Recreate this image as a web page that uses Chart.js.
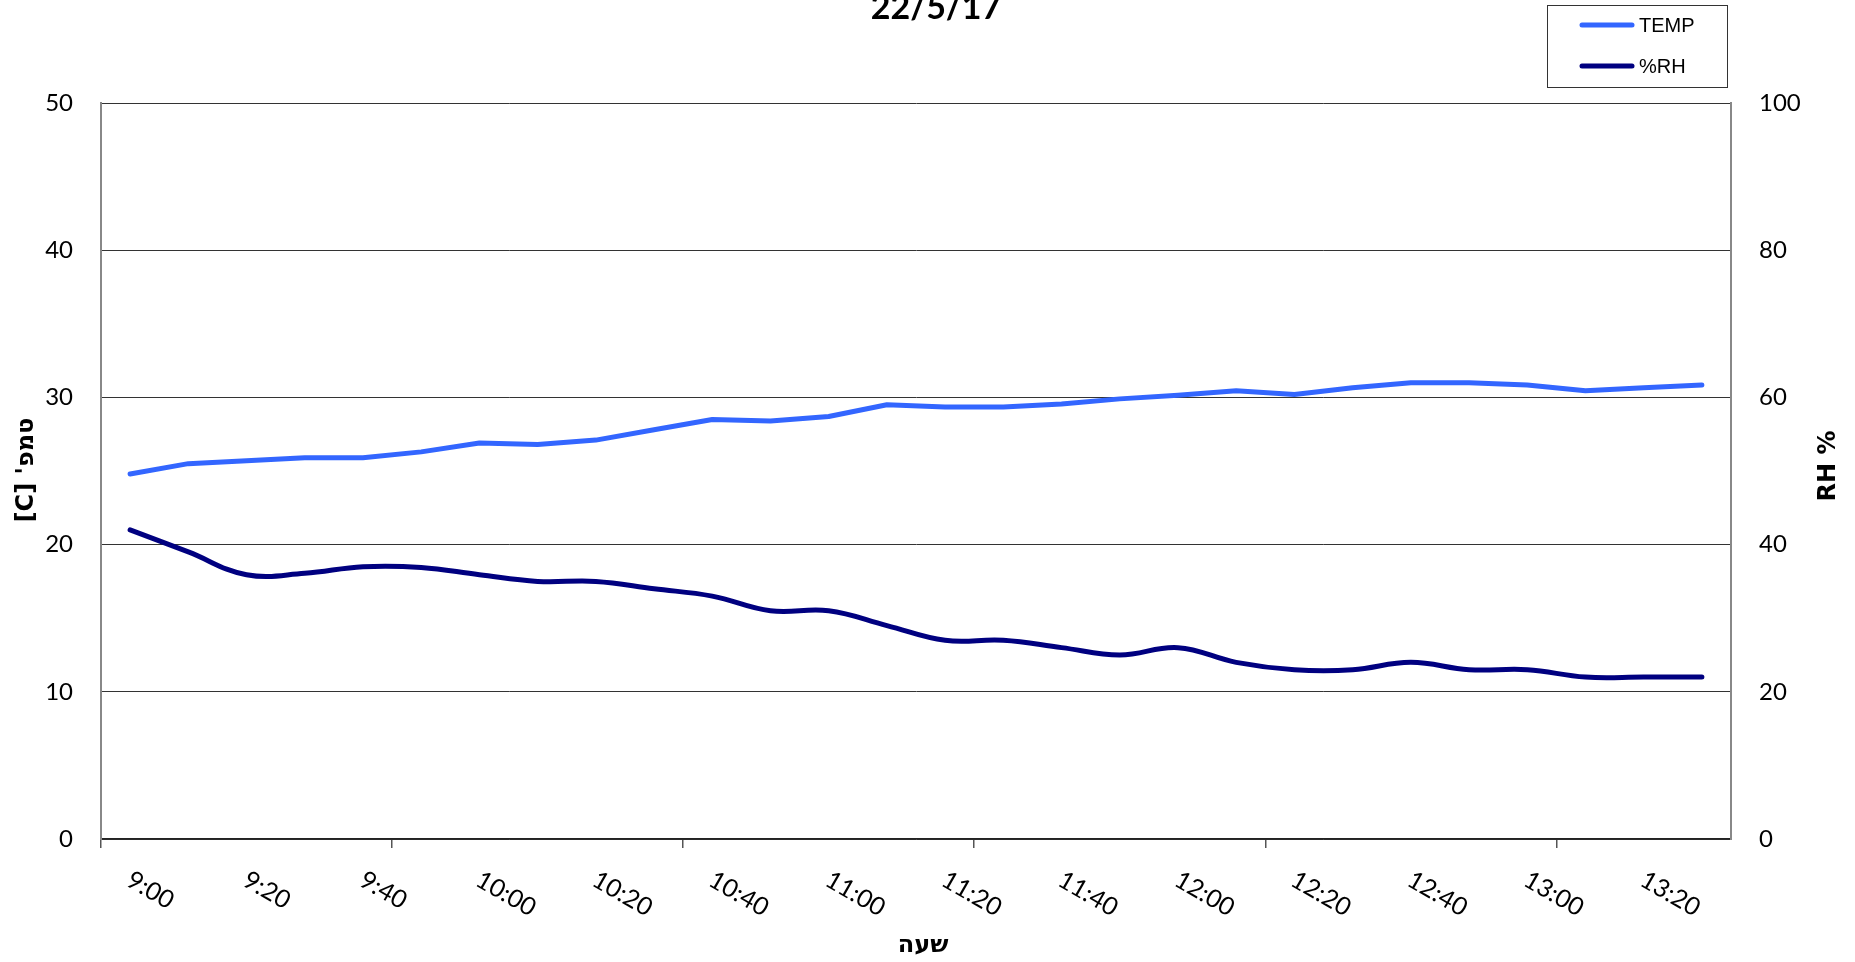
<!DOCTYPE html>
<html>
<head>
<meta charset="utf-8">
<script src="https://cdn.jsdelivr.net/npm/chart.js@4/dist/chart.umd.min.js"></script>
<style>
html,body{margin:0;padding:0;background:#fff;}
canvas{display:block;}
</style>
</head>
<body>
<canvas id="c" width="1855" height="962"></canvas>
<script>
const categories = ['9:00','9:10','9:20','9:30','9:40','9:50','10:00','10:10','10:20','10:30','10:40','10:50','11:00','11:10','11:20','11:30','11:40','11:50','12:00','12:10','12:20','12:30','12:40','12:50','13:00','13:10','13:20','13:30'];
const tempValues = [24.8,25.5,25.7,25.9,25.9,26.3,26.9,26.8,27.1,27.8,28.5,28.4,28.7,29.5,29.35,29.35,29.55,29.9,30.15,30.45,30.2,30.65,31.0,31.0,30.85,30.45,30.65,30.85];
const rhValues = [42,39,35.9,36.1,37,36.9,35.9,35,35,34,33,31,31,29,27,27,26,25,26,24,23,23,24,23,23,22,22,22];
const leftTicks = {min:0, max:50, step:10};
const rightTicks = {min:0, max:100, step:20};
const titleText = '22/5/17';
const xTitle = 'שעה';
const yTitle = "[C] 'טמפ";
const y1Title = 'RH %';
const seriesNames = ['TEMP','%RH'];
const seriesColors = ['#3366FF','#000080'];

const tickFont = {family:'Lato', size:24};

const customText = {
  id:'customText',
  afterDraw(chart){
    const ctx = chart.ctx;
    const xs = chart.scales.x;
    const ca = chart.chartArea;
    ctx.save();
    // x tick labels rotated clockwise
    ctx.font = '25px Lato';
    ctx.fillStyle = '#000';
    ctx.textAlign = 'left';
    ctx.textBaseline = 'top';
    categories.forEach((lab,i)=>{
      if(i%2!==0) return;
      const px = xs.getPixelForValue(i);
      ctx.save();
      ctx.translate(px+5, ca.bottom+28);
      ctx.rotate(Math.PI/6);
      ctx.fillText(lab,0,0);
      ctx.restore();
    });
    // chart title
    ctx.font = 'bold 34px Lato';
    ctx.textAlign = 'center';
    ctx.textBaseline = 'alphabetic';
    ctx.fillText(titleText, 936, 19);
    // x title
    ctx.font = 'bold 24px "DejaVu Sans"';
    ctx.textBaseline = 'middle';
    ctx.fillText(xTitle, 923, 946);
    // left title
    ctx.save();
    ctx.translate(27, 470);
    ctx.rotate(-Math.PI/2);
    ctx.fillText(yTitle,0,0);
    ctx.restore();
    // right title
    ctx.save();
    ctx.translate(1829, 466);
    ctx.rotate(-Math.PI/2);
    ctx.fillText(y1Title,0,0);
    ctx.restore();
    // legend
    ctx.fillStyle = '#fff';
    ctx.fillRect(1547.5,5.5,180,82);
    ctx.strokeStyle = '#333';
    ctx.lineWidth = 1;
    ctx.strokeRect(1547.5,5.5,180,82);
    ctx.font = '20px "Liberation Sans"';
    ctx.textAlign = 'left';
    ctx.textBaseline = 'middle';
    const rows = [25,66];
    seriesNames.forEach((n,k)=>{
      ctx.strokeStyle = seriesColors[k];
      ctx.lineWidth = 5;
      ctx.lineCap = 'round';
      ctx.beginPath();
      ctx.moveTo(1582, rows[k]);
      ctx.lineTo(1632, rows[k]);
      ctx.stroke();
      ctx.fillStyle = '#000';
      ctx.fillText(n, 1639, rows[k]+1);
    });
    ctx.restore();
  }
};

new Chart(document.getElementById('c'), {
  type:'line',
  data:{
    labels:categories,
    datasets:[
      {label:seriesNames[0], data:tempValues, yAxisID:'y', borderColor:seriesColors[0], backgroundColor:seriesColors[0], borderWidth:5, pointRadius:0, tension:0, borderCapStyle:'round', borderJoinStyle:'round'},
      {label:seriesNames[1], data:rhValues, yAxisID:'y1', borderColor:seriesColors[1], backgroundColor:seriesColors[1], borderWidth:5, pointRadius:0, tension:0.4, borderCapStyle:'round', borderJoinStyle:'round'}
    ]
  },
  options:{
    responsive:false,
    animation:false,
    devicePixelRatio:1,
    layout:{padding:{top:103,left:0,right:0,bottom:0}},
    plugins:{legend:{display:false}, title:{display:false}, tooltip:{enabled:false}},
    scales:{
      x:{
        type:'category',
        offset:true,
        grid:{offset:true, drawOnChartArea:false, drawTicks:true, tickLength:9, lineWidth:1.5,
          color:(c)=> (c.index!==undefined && c.index%5===0) ? '#555' : 'rgba(0,0,0,0)'},
        border:{color:'#222', width:1.5},
        ticks:{display:false, autoSkip:false},
        afterFit:(s)=>{ s.height = 123; }
      },
      y:{
        position:'left',
        min:leftTicks.min, max:leftTicks.max,
        ticks:{stepSize:leftTicks.step, padding:28, font:tickFont, color:'#000'},
        grid:{color:'#333', lineWidth:1, drawTicks:false},
        border:{color:'#888', width:2},
        afterFit:(s)=>{ s.width = 101; }
      },
      y1:{
        position:'right',
        min:rightTicks.min, max:rightTicks.max,
        ticks:{stepSize:rightTicks.step, padding:28, font:tickFont, color:'#000'},
        grid:{drawOnChartArea:false, drawTicks:false},
        border:{color:'#888', width:2},
        afterFit:(s)=>{ s.width = 124; }
      }
    }
  },
  plugins:[customText]
});
</script>
</body>
</html>
